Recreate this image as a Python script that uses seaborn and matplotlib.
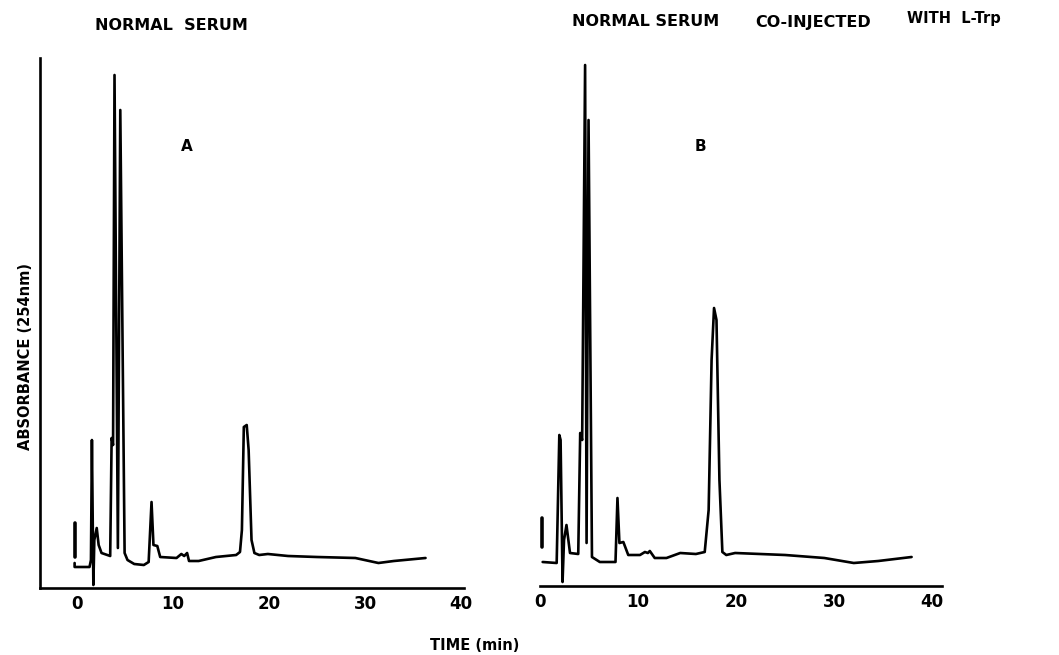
import matplotlib
matplotlib.use("Agg")
import matplotlib.pyplot as plt
import seaborn as sns
import pandas as pd

# trace A: normal serum (time in min, absorbance in arbitrary units)
time_a = [-0.2, -0.2, 1.35, 1.5, 1.6, 1.75, 1.85, 2.1, 2.3, 2.6, 3.5, 3.65, 3.8, 3.95,
          4.3, 4.55, 5.0, 5.3, 6.0, 7.0, 7.5, 7.8, 8.0, 8.4, 8.7, 10.4, 10.9, 11.2, 11.5,
          11.7, 12.7, 14.5, 16.6, 17.0, 17.2, 17.4, 17.7, 17.9, 18.2, 18.5, 19.0, 19.9,
          22.0, 25.0, 29.0, 31.4, 33.0, 36.3]
abs_a = [0.25, 0.21, 0.21, 0.28, 1.48, 0.03, 0.48, 0.60, 0.43, 0.35, 0.32, 1.50, 1.43, 5.13,
         0.40, 4.78, 0.35, 0.28, 0.24, 0.23, 0.26, 0.86, 0.43, 0.42, 0.31, 0.30, 0.34, 0.32, 0.35,
         0.27, 0.27, 0.31, 0.33, 0.36, 0.58, 1.61, 1.63, 1.38, 0.48, 0.35, 0.33, 0.34,
         0.32, 0.31, 0.30, 0.25, 0.27, 0.30]

# trace B: normal serum co-injected with L-Trp
time_b = [0.27, 1.7, 1.97, 2.1, 2.3, 2.45, 2.7, 3.06, 3.9, 4.1, 4.3, 4.6, 4.75, 4.95, 5.3,
          6.1, 7.7, 7.9, 8.1, 8.5, 9.0, 10.2, 10.7, 11.0, 11.2, 11.7, 12.9, 14.3, 15.9,
          16.8, 17.2, 17.5, 17.75, 18.0, 18.3, 18.6, 19.0, 19.9, 25.0, 29.0, 32.0, 34.5, 37.9]
abs_b = [0.24, 0.23, 1.51, 1.46, 0.04, 0.46, 0.61, 0.33, 0.32, 1.53, 1.46, 5.21, 0.43, 4.66, 0.29,
         0.24, 0.24, 0.88, 0.43, 0.44, 0.31, 0.31, 0.34, 0.33, 0.35, 0.28, 0.28, 0.33, 0.32,
         0.34, 0.76, 2.26, 2.78, 2.66, 1.06, 0.34, 0.31, 0.33, 0.31, 0.28, 0.23, 0.25, 0.29]

# injection marks
inj_a_time = [-0.2, -0.2]
inj_a_abs = [0.31, 0.65]
inj_b_time = [0.17, 0.17]
inj_b_abs = [0.39, 0.68]

tick_vals = [0, 10, 20, 30, 40]

sns.set_style("white")
plt.rcParams['font.family'] = ['DejaVu Sans']
plt.rcParams['text.color'] = 'black'
plt.rcParams['xtick.color'] = 'black'

W, H = 1059, 655
fig = plt.figure(figsize=(W / 100, H / 100), dpi=100)


def px_box(x0, x1, ytop, ybot):
    return [x0 / W, 1 - ybot / H, (x1 - x0) / W, (ybot - ytop) / H]


ax_a = fig.add_axes(px_box(40, 464, 58, 588))
ax_b = fig.add_axes(px_box(540, 942, 56, 586))

df_a = pd.DataFrame({"t": time_a, "a": abs_a})
df_b = pd.DataFrame({"t": time_b, "a": abs_b})

for ax, df, it, ia, xl in [(ax_a, df_a, inj_a_time, inj_a_abs, (-3.8, 40.3)),
                           (ax_b, df_b, inj_b_time, inj_b_abs, (0, 41))]:
    sns.lineplot(data=df, x="t", y="a", sort=False, estimator=None,
                 color="black", linewidth=1.9, ax=ax)
    sns.lineplot(x=it, y=ia, sort=False, estimator=None,
                 color="black", linewidth=2.6, ax=ax)
    ax.set_xlim(*xl)
    ax.set_ylim(0, 5.3)
    ax.set_xticks(tick_vals)
    ax.set_xticklabels([str(v) for v in tick_vals], fontsize=12, fontweight="bold")
    ax.set_yticks([])
    ax.set_xlabel("")
    ax.set_ylabel("")
    ax.tick_params(axis="x", length=0, pad=5, colors="black")
    for s in ["top", "right"]:
        ax.spines[s].set_visible(False)
    ax.spines["bottom"].set_linewidth(1.9)
    ax.spines["bottom"].set_color("black")

ax_a.spines["left"].set_linewidth(1.9)
ax_a.spines["left"].set_color("black")
ax_b.spines["left"].set_visible(False)

# panel letters
fig.text(187 / W, 1 - 147 / H, "A", fontsize=11, fontweight="bold", ha="center", va="center")
fig.text(700 / W, 1 - 147 / H, "B", fontsize=11, fontweight="bold", ha="center", va="center")

# headings
fig.text(95 / W, 1 - 25 / H, "NORMAL  SERUM", fontsize=11.5, fontweight="bold", ha="left", va="center")
fig.text(572 / W, 1 - 22 / H, "NORMAL SERUM", fontsize=11.5, fontweight="bold", ha="left", va="center")
fig.text(755 / W, 1 - 22 / H, "CO-INJECTED", fontsize=11.5, fontweight="bold", ha="left", va="center")
fig.text(907 / W, 1 - 19 / H, "WITH  L-Trp", fontsize=10.5, fontweight="bold", ha="left", va="center")

# axis titles
fig.text(26 / W, 1 - 357 / H, "ABSORBANCE (254nm)", fontsize=10.5, fontweight="bold",
         rotation=90, ha="center", va="center")
fig.text(475 / W, 1 - 645 / H, "TIME (min)", fontsize=10.5, fontweight="bold", ha="center", va="center")

fig.savefig("out.png", dpi=100)
